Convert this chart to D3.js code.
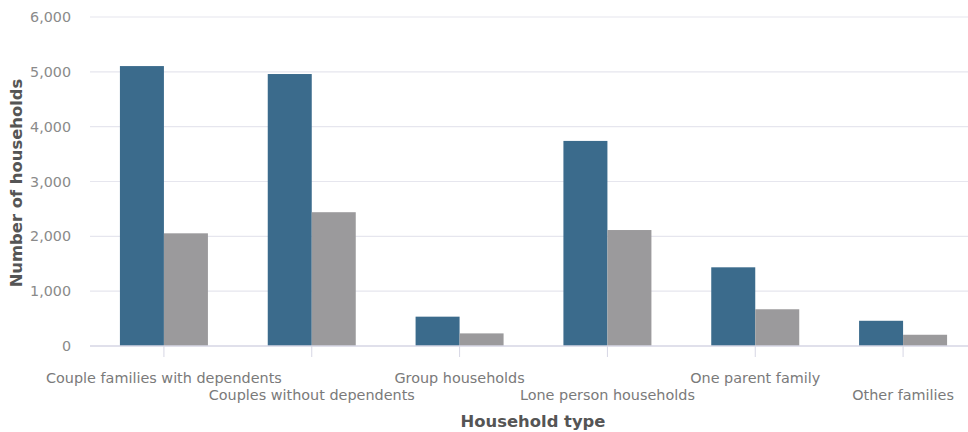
<!DOCTYPE html>
<html><head><meta charset="utf-8">
<script src="https://cdn.jsdelivr.net/npm/d3@7"></script>
<style>body{margin:0;background:#fff;}svg{display:block;font-family:"DejaVu Sans",sans-serif;}</style>
</head><body><svg id="c" width="968" height="432"></svg>
<script>
const categories = ["Couple families with dependents","Couples without dependents","Group households","Lone person households","One parent family","Other families"];
const seriesA = [5105, 4960, 535, 3740, 1435, 460];
const seriesB = [2055, 2440, 230, 2115, 670, 205];
const yTicks = [0,1000,2000,3000,4000,5000,6000];
const colors = ["#3b6b8c","#9b9a9c"];

const svg = d3.select("#c");
const x = d3.scaleBand().domain(categories).range([90, 977]).paddingInner(0).paddingOuter(0);
const y = d3.scaleLinear().domain([0,6000]).range([346, 17]);
const groupW = 88;
const x1 = d3.scaleBand().domain([0,1]).range([0, groupW]);

// gridlines
svg.append("g").selectAll("line").data(yTicks.filter(d=>d>0)).join("line")
  .attr("x1",90).attr("x2",968).attr("y1",d=>y(d)).attr("y2",d=>y(d))
  .attr("stroke","#e6e6ee").attr("stroke-width",1.2);

// y labels
svg.append("g").selectAll("text").data(yTicks).join("text")
  .attr("x",71).attr("y",d=>y(d)).attr("dy","0.36em").attr("text-anchor","end")
  .attr("fill","#8a8a8a").attr("font-size",14.3).text(d=>d3.format(",")(d));

// bars
const data = categories.map((c,i)=>({c, v:[seriesA[i], seriesB[i]]}));
const g = svg.append("g").selectAll("g").data(data).join("g")
  .attr("transform",d=>`translate(${x(d.c)+x.bandwidth()/2-groupW/2},0)`);
g.selectAll("rect").data(d=>d.v.map((v,k)=>({v,k}))).join("rect")
  .attr("x",d=>x1(d.k)).attr("width",x1.bandwidth())
  .attr("y",d=>y(d.v)).attr("height",d=>y(0)-y(d.v))
  .attr("fill",d=>colors[d.k]);

// baseline
svg.append("line").attr("x1",90).attr("x2",968).attr("y1",y(0)).attr("y2",y(0))
  .attr("stroke","#d6d6e4").attr("stroke-width",1.5);

// ticks
svg.append("g").selectAll("line").data(categories).join("line")
  .attr("x1",d=>x(d)+x.bandwidth()/2).attr("x2",d=>x(d)+x.bandwidth()/2)
  .attr("y1",y(0)).attr("y2",y(0)+11).attr("stroke","#d6d6e4").attr("stroke-width",1);

// x labels
svg.append("g").selectAll("text").data(categories).join("text")
  .attr("x",d=>x(d)+x.bandwidth()/2).attr("y",(d,i)=>i%2===0?383:400)
  .attr("text-anchor","middle").attr("fill","#7a7a7a").attr("font-size",14.4).text(d=>d);

// axis titles
svg.append("text").attr("x",533).attr("y",427).attr("text-anchor","middle")
  .attr("fill","#555").attr("font-size",16.4).attr("font-weight","bold").text("Household type");
svg.append("text").attr("transform","translate(22,183) rotate(-90)").attr("text-anchor","middle")
  .attr("fill","#555").attr("font-size",16.4).attr("font-weight","bold").text("Number of households");
</script></body></html>
